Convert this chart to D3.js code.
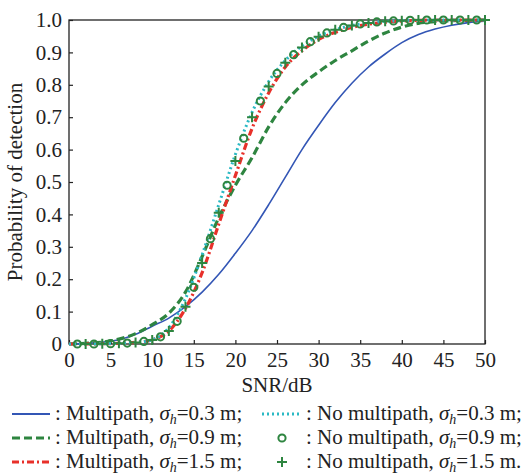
<!DOCTYPE html>
<meta charset="utf-8">
<style>
body { margin: 0; background: #fff; }
svg text { font-family: "Liberation Serif", "Times New Roman", serif; fill: #222; }
</style>
<script src="https://d3js.org/d3.v7.min.js"></script>
<body>
<script>

// SNR grid for the curves (dB)
var snr = d3.range(0, 51, 2);

// Multipath curves
var mp03 = [0, 0.002, 0.006, 0.013, 0.03, 0.055, 0.08, 0.115, 0.16, 0.215, 0.28, 0.35, 0.43,
            0.515, 0.6, 0.675, 0.745, 0.805, 0.855, 0.895, 0.93, 0.955, 0.972, 0.984, 0.992, 0.996];
var mp09 = [0, 0.002, 0.006, 0.015, 0.032, 0.06, 0.095, 0.16, 0.27, 0.39, 0.49, 0.575, 0.67,
            0.745, 0.80, 0.84, 0.875, 0.905, 0.935, 0.96, 0.978, 0.99, 0.995, 0.998, 0.999, 1];
var mp15 = [0, 0, 0.001, 0.002, 0.005, 0.013, 0.04, 0.11, 0.22, 0.37, 0.52, 0.665, 0.775,
            0.855, 0.905, 0.94, 0.962, 0.977, 0.987, 0.993, 0.997, 0.999, 1, 1, 1, 1];
// No multipath, sigma_h = 0.3 m
var nomp03 = [0, 0, 0.001, 0.002, 0.005, 0.013, 0.05, 0.14, 0.275, 0.43, 0.585, 0.715, 0.81,
              0.875, 0.92, 0.95, 0.97, 0.983, 0.991, 0.996, 0.998, 1, 1, 1, 1, 1];

// No multipath, sigma_h = 0.9 m (circles, odd dB)
var circSnr = d3.range(1, 50, 2);
var nomp09 = [0, 0, 0.001, 0.003, 0.008, 0.022, 0.07, 0.175, 0.325, 0.49, 0.635, 0.75, 0.835,
              0.893, 0.933, 0.96, 0.977, 0.988, 0.994, 0.997, 0.999, 1, 1, 1, 1];
// No multipath, sigma_h = 1.5 m (pluses, even dB)
var plusSnr = d3.range(2, 51, 2);
var nomp15 = [0, 0.001, 0.002, 0.005, 0.012, 0.04, 0.115, 0.25, 0.405, 0.565, 0.70, 0.795,
              0.868, 0.915, 0.948, 0.97, 0.983, 0.991, 0.996, 0.998, 1, 1, 1, 1, 1];

var xTicks = d3.range(0, 51, 5);
var yTicks = d3.range(0, 11).map(function(d) { return d / 10; });

var w = 529, h = 475;
var svg = d3.select("body").append("svg")
    .attr("width", w)
    .attr("height", h);

var x = d3.scaleLinear().domain([0, 50]).range([69, 485]);
var y = d3.scaleLinear().domain([0, 1]).range([344, 20]);

var green = "#2e8540", blue = "#3356b5", red = "#e8302a", cyan = "#2bb9c4";
var fs = "21px";

// frame
svg.append("rect")
   .attr("x", x(0)).attr("y", y(1))
   .attr("width", x(50) - x(0)).attr("height", y(0) - y(1))
   .attr("fill", "none").attr("stroke", "#222").attr("stroke-width", 1.3);

// axes with inward ticks
svg.append("g")
   .attr("transform", "translate(0," + y(0) + ")")
   .call(d3.axisBottom(x).tickValues(xTicks).tickSizeInner(-4).tickSizeOuter(0).tickPadding(8));
svg.append("g")
   .attr("transform", "translate(" + x(0) + ",0)")
   .call(d3.axisLeft(y).tickValues(yTicks).tickSizeInner(-4).tickSizeOuter(0).tickPadding(7)
         .tickFormat(function(d) { return d === 0 ? "0" : d3.format(".1f")(d); }));
svg.selectAll(".domain").remove();
svg.selectAll(".tick line").attr("stroke", "#222").attr("stroke-width", 1.2);
svg.selectAll(".tick text").attr("font-size", fs).attr("fill", "#222")
   .attr("font-family", "Liberation Serif, serif");

svg.append("text")
   .attr("x", x(25)).attr("y", 392)
   .attr("text-anchor", "middle").attr("font-size", fs)
   .text("SNR/dB");
svg.append("text")
   .attr("transform", "translate(22," + y(0.5) + ") rotate(-90)")
   .attr("text-anchor", "middle").attr("font-size", fs)
   .text("Probability of detection");

function lineOf(xs) {
  return d3.line()
    .x(function(d, i) { return x(xs[i]); })
    .y(function(d) { return y(d); })
    .curve(d3.curveMonotoneX);
}

var series = [
  {v: mp03, color: blue, width: 1.6, dash: null},
  {v: mp09, color: green, width: 3.2, dash: "8,4"},
  {v: mp15, color: red, width: 3.2, dash: "7,3,2,3"},
  {v: nomp03, color: cyan, width: 3, dash: "2,3"}
];

series.forEach(function(s) {
  svg.append("path")
     .attr("d", lineOf(snr)(s.v))
     .attr("fill", "none")
     .attr("stroke", s.color)
     .attr("stroke-width", s.width)
     .attr("stroke-dasharray", s.dash);
});

// markers
svg.selectAll("circle.m")
   .data(nomp09)
   .enter()
   .append("circle")
   .attr("class", "m")
   .attr("cx", function(d, i) { return x(circSnr[i]); })
   .attr("cy", function(d) { return y(d); })
   .attr("r", 3.6)
   .attr("fill", "none")
   .attr("stroke", green)
   .attr("stroke-width", 2);

svg.selectAll("path.p")
   .data(nomp15)
   .enter()
   .append("path")
   .attr("class", "p")
   .attr("transform", function(d, i) { return "translate(" + x(plusSnr[i]) + "," + y(d) + ")"; })
   .attr("d", "M-5,0H5M0,-5V5")
   .attr("stroke", green)
   .attr("stroke-width", 2);

// legend
var legLeft = [
  {sig: "0.3", color: blue, width: 1.8, dash: null, end: ";"},
  {sig: "0.9", color: green, width: 3.2, dash: "8,4", end: ";"},
  {sig: "1.5", color: red, width: 3.2, dash: "7,3,2,3", end: ";"}
];
var legRight = [
  {sig: "0.3", kind: "dot", end: ";"},
  {sig: "0.9", kind: "circle", end: ";"},
  {sig: "1.5", kind: "plus", end: "."}
];
var rowY = [414, 438, 462];

function legendText(g, tx, ty, label, sig, end) {
  var t = g.append("text").attr("x", tx).attr("y", ty + 6).attr("font-size", fs);
  t.append("tspan").text(": " + label + ", ");
  t.append("tspan").attr("font-style", "italic").text("σ");
  t.append("tspan").attr("font-style", "italic").attr("font-size", "14px").attr("dy", 4).text("h");
  t.append("tspan").attr("dy", -4).text("=" + sig + " m" + end);
}

var leg = svg.append("g");
legLeft.forEach(function(d, i) {
  leg.append("line")
     .attr("x1", 12).attr("x2", 50).attr("y1", rowY[i]).attr("y2", rowY[i])
     .attr("stroke", d.color).attr("stroke-width", d.width).attr("stroke-dasharray", d.dash);
  legendText(leg, 55, rowY[i], "Multipath", d.sig, d.end);
});
legRight.forEach(function(d, i) {
  if (d.kind === "dot") {
    leg.append("line")
       .attr("x1", 262).attr("x2", 300).attr("y1", rowY[i]).attr("y2", rowY[i])
       .attr("stroke", cyan).attr("stroke-width", 3).attr("stroke-dasharray", "2,3");
  } else if (d.kind === "circle") {
    leg.append("circle").attr("cx", 282).attr("cy", rowY[i]).attr("r", 3.6)
       .attr("fill", "none").attr("stroke", green).attr("stroke-width", 2);
  } else {
    leg.append("path").attr("transform", "translate(282," + rowY[i] + ")")
       .attr("d", "M-5,0H5M0,-5V5").attr("stroke", green).attr("stroke-width", 2);
  }
  legendText(leg, 306, rowY[i], "No multipath", d.sig, d.end);
});

</script>
</body>
